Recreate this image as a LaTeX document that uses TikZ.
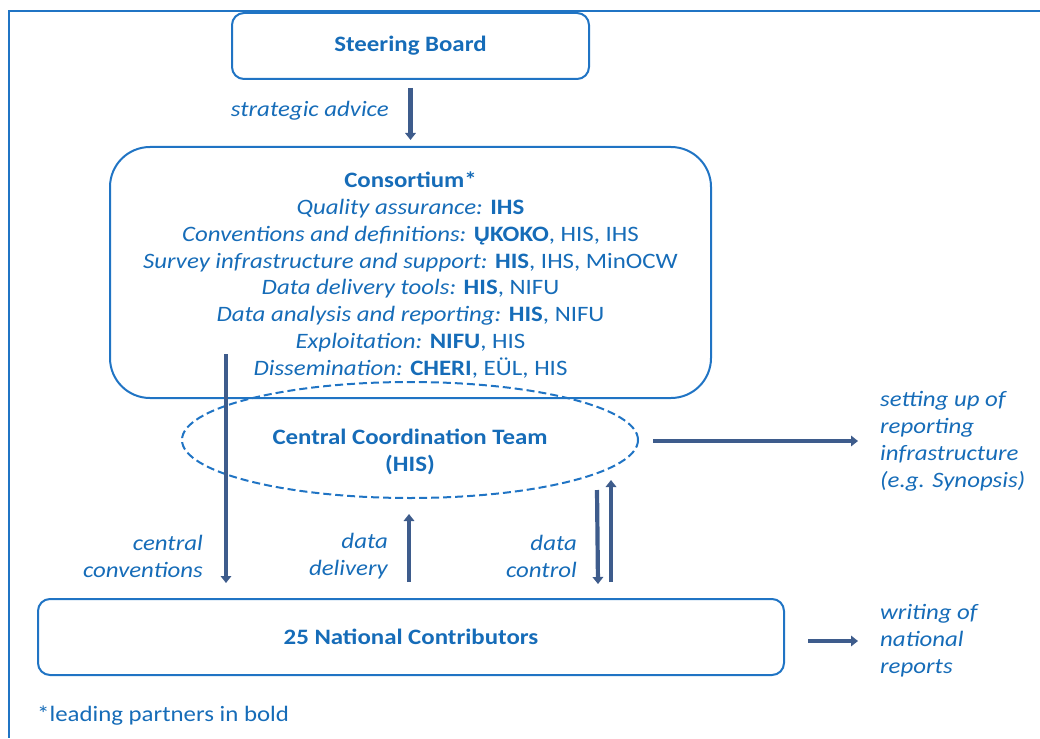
\documentclass[tikz,border=0pt]{standalone}
\usepackage{fontspec}
\setmainfont{Carlito}[FakeStretch=1.13]
\usetikzlibrary{arrows.meta,shapes.geometric,calc}

\definecolor{txtblue}{RGB}{22,108,184}
\definecolor{lineblue}{RGB}{32,116,196}
\definecolor{arrowblue}{RGB}{62,92,140}

\tikzset{
  base/.style={text=txtblue, font=\fontsize{22}{26.9}\selectfont, inner sep=0pt},
  box/.style={base, draw=lineblue, line width=2pt, align=center},
  flow/.style={draw=arrowblue, line width=4.2pt,
    -{Triangle[length=7pt,width=10.5pt]}},
  lbl/.style={base, font=\fontsize{22}{26.9}\selectfont\itshape},
}

\begin{document}
\begin{tikzpicture}[x=1pt,y=-1pt]
\useasboundingbox (0,0) rectangle (1040,738);

% outer frame
\draw[lineblue, line width=2pt] (1040,11) -- (9,11) -- (9,738);

% boxes
\node[box, rounded corners=12pt, minimum width=357pt, minimum height=66pt]
  (steer) at (410.5,46) {\bfseries Steering Board};

\node[box, rounded corners=40pt, minimum width=601pt, minimum height=251pt]
  (cons) at (410.5,272.5) {};
\node[base, align=center] (constext) at (410.5,275) {%
  \textbf{Consortium*}\\
  \textit{Quality assurance:} \textbf{IHS}\\
  \textit{Conventions and definitions:} \textbf{ŲKOKO}, HIS, IHS\\
  \textit{Survey infrastructure and support:} \textbf{HIS}, IHS, MinOCW\\
  \textit{Data delivery tools:} \textbf{HIS}, NIFU\\
  \textit{Data analysis and reporting:} \textbf{HIS}, NIFU\\
  \textit{Exploitation:} \textbf{NIFU}, HIS\\
  \textit{Dissemination:} \textbf{CHERI}, EÜL, HIS};

\node[draw=lineblue, line width=2pt, dash pattern=on 8pt off 4pt,
  ellipse, minimum width=456pt, minimum height=116pt, inner sep=0pt]
  (cct) at (410,440) {};
\node[base, align=center, font=\fontsize{22}{26.9}\selectfont\bfseries]
  (cctlabel) at (410,452) {Central Coordination Team\\(HIS)};

\node[box, rounded corners=12pt, minimum width=746pt, minimum height=76pt]
  (nat) at (411,637) {\bfseries 25 National Contributors};

% free ends of the outgoing arrows
\coordinate (setupend) at (858,441);
\coordinate (writeend) at (858,641);

% connectors
\draw[flow] ([yshift=-8pt]steer.south) -- ([yshift=6pt]cons.north);
\draw[flow] ([xshift=-184.5pt,yshift=45pt]cons.south) -- ([xshift=-185pt,yshift=15pt]nat.north);
\draw[flow] ([xshift=-2pt,yshift=16pt]nat.north) -- ([xshift=-1pt,yshift=-15pt]cct.south);
\draw[flow] ([xshift=187pt,yshift=9pt]cct.south) -- ([xshift=187pt,yshift=14pt]nat.north);
\draw[flow] ([xshift=200pt,yshift=16pt]nat.north) -- ([xshift=201pt,yshift=19pt]cct.south);
\draw[flow] ([xshift=14pt]cct.east |- setupend) -- (setupend);
\draw[flow] ([xshift=23pt,yshift=-4pt]nat.east) -- (writeend);

% labels
\node[lbl, anchor=east] (lstrat) at (389,111) {strategic advice};
\node[lbl, anchor=east, align=right] (lconv) at (203,556) {central\\conventions};
\node[lbl, anchor=east, align=right] (ldeliv) at (388,556) {data\\delivery};
\node[lbl, anchor=east, align=right] (lctrl) at (577,556) {data\\control};
\node[lbl, anchor=west, align=left] (lsetup) at (880,441) {setting up of\\reporting\\infrastructure\\(e.g. Synopsis)};
\node[lbl, anchor=west, align=left] (lwrite) at (880,641) {writing of\\national\\reports};

\node[base, anchor=west] (foot) at (37,716) {*leading partners in bold};
\end{tikzpicture}
\end{document}
